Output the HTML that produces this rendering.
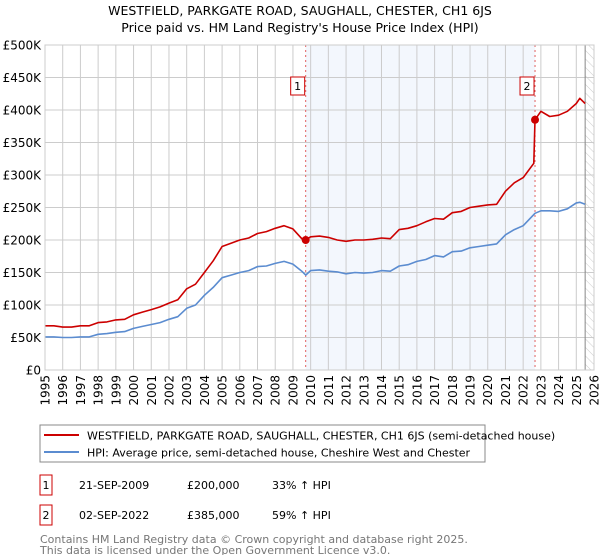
<!DOCTYPE html>
<html><head><meta charset="utf-8"><style>
body{margin:0;background:#fff;font-family:"DejaVu Sans","Liberation Sans",sans-serif;}
#wrap{position:relative;width:600px;height:560px;overflow:hidden;}
svg text{font-family:"DejaVu Sans","Liberation Sans",sans-serif;}
</style></head><body><div id="wrap">
<svg id="chart" width="600" height="560">
<defs><pattern id="hatch" width="6" height="6" patternUnits="userSpaceOnUse" patternTransform="rotate(-45)"><line x1="0" y1="0" x2="0" y2="6" stroke="#ccc" stroke-width="1"/></pattern></defs>
<text x="300" y="15" text-anchor="middle" font-size="12.5" fill="#000">WESTFIELD, PARKGATE ROAD, SAUGHALL, CHESTER, CH1 6JS</text>
<text x="300" y="32" text-anchor="middle" font-size="12.5" fill="#000">Price paid vs. HM Land Registry's House Price Index (HPI)</text>
<g id="grid"></g><g id="marks"></g>
</svg>
<svg width="600" height="140" style="position:absolute;left:0;top:415px">
<rect x="40" y="10" width="445" height="37" fill="#fff" stroke="#888"/>
<line x1="44" y1="20" x2="79" y2="20" stroke="#cc0000" stroke-width="2"/>
<text x="87" y="24.5" font-size="11">WESTFIELD, PARKGATE ROAD, SAUGHALL, CHESTER, CH1 6JS (semi-detached house)</text>
<line x1="44" y1="37" x2="79" y2="37" stroke="#5b8cd0" stroke-width="2"/>
<text x="87" y="41.5" font-size="11">HPI: Average price, semi-detached house, Cheshire West and Chester</text>
<rect x="40" y="60" width="12" height="20" fill="#fff" stroke="#cc0000"/>
<text x="46" y="74" font-size="11" text-anchor="middle">1</text>
<text x="79" y="74" font-size="11">21-SEP-2009</text>
<text x="187" y="74" font-size="11">£200,000</text>
<text x="272" y="74" font-size="11">33% ↑ HPI</text>
<rect x="40" y="90" width="12" height="20" fill="#fff" stroke="#cc0000"/>
<text x="46" y="104" font-size="11" text-anchor="middle">2</text>
<text x="79" y="104" font-size="11">02-SEP-2022</text>
<text x="187" y="104" font-size="11">£385,000</text>
<text x="272" y="104" font-size="11">59% ↑ HPI</text>
<text x="40" y="128" font-size="11" fill="#777">Contains HM Land Registry data © Crown copyright and database right 2025.</text>
<text x="40" y="139" font-size="11" fill="#777">This data is licensed under the Open Government Licence v3.0.</text>
</svg>
</div>
<script>
const hpiYears=[1995,1995.5,1996,1996.5,1997,1997.5,1998,1998.5,1999,1999.5,2000,2000.5,2001,2001.5,2002,2002.5,2003,2003.5,2004,2004.5,2005,2005.5,2006,2006.5,2007,2007.5,2008,2008.5,2009,2009.5,2009.72,2010,2010.5,2011,2011.5,2012,2012.5,2013,2013.5,2014,2014.5,2015,2015.5,2016,2016.5,2017,2017.5,2018,2018.5,2019,2019.5,2020,2020.5,2021,2021.5,2022,2022.67,2023,2023.5,2024,2024.5,2025,2025.2,2025.5];
const hpiValues=[51,51,50,50,51,51,55,56,58,59,64,67,70,73,78,82,95,100,115,127,142,146,150,153,159,160,164,167,163,152,146,153,154,152,151,148,150,149,150,153,152,160,162,167,170,176,174,182,183,188,190,192,194,208,216,222,241,245,245,244,248,257,258,255];
const priceYears=[1995,1995.5,1996,1996.5,1997,1997.5,1998,1998.5,1999,1999.5,2000,2000.5,2001,2001.5,2002,2002.5,2003,2003.5,2004,2004.5,2005,2005.5,2006,2006.5,2007,2007.5,2008,2008.5,2009,2009.5,2009.72,2010,2010.5,2011,2011.5,2012,2012.5,2013,2013.5,2014,2014.5,2015,2015.5,2016,2016.5,2017,2017.5,2018,2018.5,2019,2019.5,2020,2020.5,2021,2021.5,2022,2022.6,2022.67,2023,2023.5,2024,2024.5,2025,2025.2,2025.5];
const priceValues=[68,68,66,66,68,68,73,74,77,78,85,89,93,97,103,108,125,132,150,168,190,195,200,203,210,213,218,222,217,202,200,205,206,204,200,198,200,200,201,203,202,216,218,222,228,233,232,242,244,250,252,254,255,275,288,296,318,385,398,390,392,398,410,418,410];
const sales=[{n:"1",x:2009.72,v:200},{n:"2",x:2022.67,v:385}];
const yTicks=[0,50,100,150,200,250,300,350,400,450,500];
const yLabels=["£0","£50K","£100K","£150K","£200K","£250K","£300K","£350K","£400K","£450K","£500K"];
const xTicks=[1995,1996,1997,1998,1999,2000,2001,2002,2003,2004,2005,2006,2007,2008,2009,2010,2011,2012,2013,2014,2015,2016,2017,2018,2019,2020,2021,2022,2023,2024,2025,2026];
const L=45,R=594,T=45,B=370,X0=1995,X1=2026,YMAX=500;
const sx=y=>L+(y-X0)/(X1-X0)*(R-L);
const sy=v=>B-v/YMAX*(B-T);
const NS="http://www.w3.org/2000/svg";
function mk(p,tag,a){const e=document.createElementNS(NS,tag);for(const k in a)e.setAttribute(k,a[k]);p.appendChild(e);return e;}
const g=document.getElementById('grid'),m=document.getElementById('marks');
const sh=mk(g,'rect',{x:sx(sales[0].x),y:T,width:sx(sales[1].x)-sx(sales[0].x),height:B-T,fill:'#eef3fc',opacity:0.7});


const ht=mk(g,'rect',{x:sx(2025.5),y:T,width:R-sx(2025.5),height:B-T,fill:'url(#hatch)'});


yTicks.forEach((v,i)=>{
 const l=mk(g,'line',{x1:L,x2:R,y1:sy(v),y2:sy(v),stroke:'#ccc','stroke-width':1});
 
 
 const t=mk(g,'text',{x:L-4,y:sy(v)+4.5,'text-anchor':'end','font-size':12});
 t.textContent=yLabels[i];
 
 
});
xTicks.forEach(y=>{
 const l=mk(g,'line',{x1:sx(y),x2:sx(y),y1:T,y2:B,stroke:'#ccc','stroke-width':1});
 
 
 const t=mk(g,'text',{x:0,y:0,'font-size':12,'text-anchor':'end',transform:`translate(${sx(y)+4.5},${B+5}) rotate(-90)`});
 t.textContent=y;
 
 
});
mk(g,'line',{x1:sx(2025.5),x2:sx(2025.5),y1:T,y2:B,stroke:'#888','stroke-width':1});
sales.forEach(s=>{
 const l=mk(m,'line',{x1:sx(s.x),x2:sx(s.x),y1:T,y2:B,stroke:'#e06060','stroke-width':1,'stroke-dasharray':'2,3'});
 
 
});
function path(xs,vs,c,name){
 const d=xs.map((x,i)=>(i?'L':'M')+sx(x).toFixed(1)+','+sy(vs[i]).toFixed(1)).join('');
 const p=mk(m,'path',{d:d,fill:'none',stroke:c,'stroke-width':1.6,'stroke-linejoin':'round'});
 
 
}
path(hpiYears,hpiValues,'#5b8cd0','hpi-line');
path(priceYears,priceValues,'#cc0000','price-paid-line');
sales.forEach(s=>{
 const c=mk(m,'circle',{cx:sx(s.x),cy:sy(s.v),r:4,fill:'#cc0000'});
 
 
 const bx=sx(s.x)-15,by=77;
 const r=mk(m,'rect',{x:bx,y:by,width:14,height:18,fill:'#fff',stroke:'#cc0000'});
 
 
 const t=mk(m,'text',{x:bx+7,y:by+13,'text-anchor':'middle','font-size':11});
 t.textContent=s.n;
 
 
});
mk(m,'rect',{x:L,y:T,width:R-L,height:B-T,fill:'none',stroke:'#ccc'});
</script>
</body></html>
